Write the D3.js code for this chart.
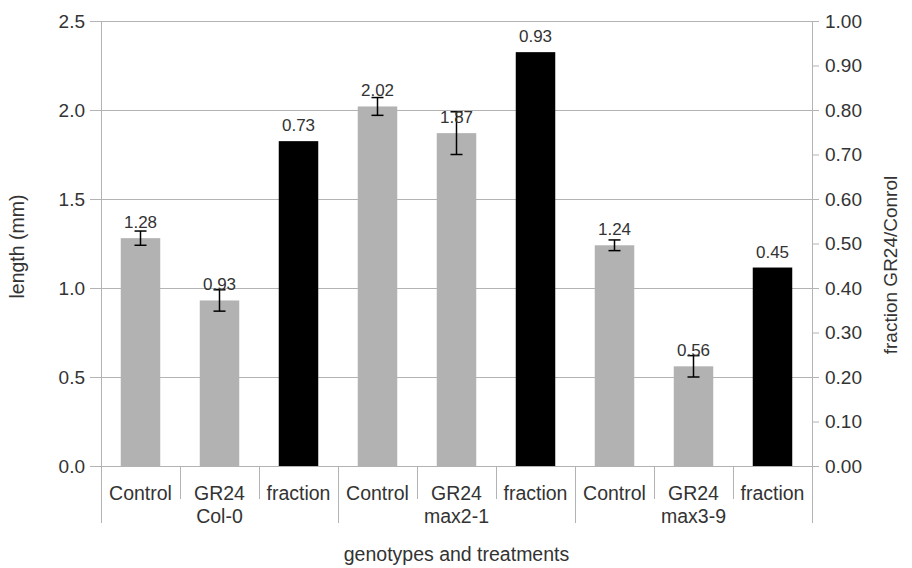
<!DOCTYPE html>
<html><head><meta charset="utf-8">
<script src="https://cdn.jsdelivr.net/npm/d3@7"></script>
<style>
html,body{margin:0;padding:0;background:#fff;}
text{font-family:"Liberation Sans",Arial,sans-serif;}
</style></head>
<body><svg id="c" width="912" height="568"></svg>
<script>
const groups = ["Col-0", "max2-1", "max3-9"];
const treatments = ["Control", "GR24", "fraction"];
const lengthControl = [1.28, 2.02, 1.24];
const lengthGR24 = [0.93, 1.87, 0.56];
const errControl = [0.04, 0.05, 0.03];
const errGR24 = [0.06, 0.12, 0.06];
const fraction = [0.73, 0.93, 0.446];
const leftTicks = [0, 0.5, 1.0, 1.5, 2.0, 2.5];
const rightTicks = [0, 0.1, 0.2, 0.3, 0.4, 0.5, 0.6, 0.7, 0.8, 0.9, 1.0];

const svg = d3.select("#c");
const L = 101, R = 812, T = 21, B = 466;
const textCol = "#333";

const cats = [];
groups.forEach((g, gi) => treatments.forEach(t => cats.push({key: g + "|" + t, g, t, gi})));

const x = d3.scaleBand().domain(cats.map(c => c.key)).range([L, R]).paddingInner(0).paddingOuter(0);
const yL = d3.scaleLinear().domain([0, 2.5]).range([B, T]);
const yR = d3.scaleLinear().domain([0, 1.0]).range([B, T]);

// gridlines
svg.append("g").selectAll("line").data(leftTicks).join("line")
  .attr("x1", L).attr("x2", R).attr("y1", d => yL(d)).attr("y2", d => yL(d))
  .attr("stroke", "#b3b3b3").attr("stroke-width", 1).attr("shape-rendering", "crispEdges");

// left axis
const la = svg.append("g").attr("transform", `translate(${L},0)`)
  .call(d3.axisLeft(yL).tickValues(leftTicks).tickFormat(d3.format(".1f")).tickSize(11).tickPadding(5));
la.select(".domain").remove();
la.selectAll("line").attr("stroke", "#b3b3b3");
la.selectAll("text").attr("fill", textCol).style("font-size", "19px").style("font-family", '"Liberation Sans",Arial,sans-serif');

// right axis
const ra = svg.append("g").attr("transform", `translate(${R},0)`)
  .call(d3.axisRight(yR).tickValues(rightTicks).tickFormat(d3.format(".2f")).tickSize(7).tickPadding(6));
ra.select(".domain").remove();
ra.selectAll("line").attr("stroke", "#b3b3b3");
ra.selectAll("text").attr("fill", textCol).style("font-size", "19px").style("font-family", '"Liberation Sans",Arial,sans-serif');

// vertical axis lines and separators
const sepG = svg.append("g").attr("stroke", "#b3b3b3").attr("shape-rendering", "crispEdges");
sepG.append("line").attr("x1", L).attr("x2", L).attr("y1", T).attr("y2", 523);
sepG.append("line").attr("x1", R).attr("x2", R).attr("y1", T).attr("y2", 523);
cats.forEach((c, i) => {
  if (i === 0) return;
  const xx = x(c.key);
  const groupStart = treatments.indexOf(c.t) === 0;
  sepG.append("line").attr("x1", xx).attr("x2", xx).attr("y1", B).attr("y2", groupStart ? 523 : 499);
});

// bars
const bw = x.bandwidth() * 0.5;
const barData = [];
groups.forEach((g, gi) => {
  barData.push({key: g + "|Control", v: lengthControl[gi], e: errControl[gi], s: yL, fill: "#b2b2b2"});
  barData.push({key: g + "|GR24", v: lengthGR24[gi], e: errGR24[gi], s: yL, fill: "#b2b2b2"});
  barData.push({key: g + "|fraction", v: fraction[gi], e: null, s: yR, fill: "#000000"});
});
const cx = d => x(d.key) + x.bandwidth() / 2;

svg.append("g").selectAll("rect").data(barData).join("rect")
  .attr("x", d => cx(d) - bw / 2).attr("width", bw)
  .attr("y", d => d.s(d.v)).attr("height", d => B - d.s(d.v))
  .attr("fill", d => d.fill);

// error bars
const eg = svg.append("g").attr("stroke", "#000").attr("stroke-width", 1.5);
barData.filter(d => d.e !== null).forEach(d => {
  const xc = cx(d), y1 = d.s(d.v + d.e), y2 = d.s(d.v - d.e);
  eg.append("line").attr("x1", xc).attr("x2", xc).attr("y1", y1).attr("y2", y2);
  eg.append("line").attr("x1", xc - 6).attr("x2", xc + 6).attr("y1", y1).attr("y2", y1);
  eg.append("line").attr("x1", xc - 6).attr("x2", xc + 6).attr("y1", y2).attr("y2", y2);
});

// data labels
svg.append("g").selectAll("text").data(barData).join("text")
  .attr("x", d => cx(d)).attr("y", d => d.s(d.v) - 10)
  .attr("text-anchor", "middle").attr("fill", textCol).style("font-size", "17px")
  .text(d => d3.format(".2f")(d.v));

// category labels
const cl = svg.append("g").attr("fill", textCol).style("font-size", "19.5px").attr("text-anchor", "middle");
cats.forEach(c => {
  cl.append("text").attr("x", x(c.key) + x.bandwidth() / 2).attr("y", 500).text(c.t);
});
groups.forEach((g, gi) => {
  const mid = cats[gi * 3 + 1];
  cl.append("text").attr("x", x(mid.key) + x.bandwidth() / 2).attr("y", 523).text(g);
});

// axis titles
svg.append("text").attr("x", (L + R) / 2).attr("y", 561).attr("text-anchor", "middle")
  .attr("fill", textCol).style("font-size", "19.5px").text("genotypes and treatments");
svg.append("text").attr("transform", `translate(24,${(T + B) / 2 + 3}) rotate(-90)`).attr("text-anchor", "middle")
  .attr("fill", textCol).style("font-size", "19.5px").text("length (mm)");
svg.append("text").attr("transform", `translate(897,265) rotate(-90)`).attr("text-anchor", "middle")
  .attr("fill", textCol).style("font-size", "19px").text("fraction GR24/Conrol");
</script></body></html>
